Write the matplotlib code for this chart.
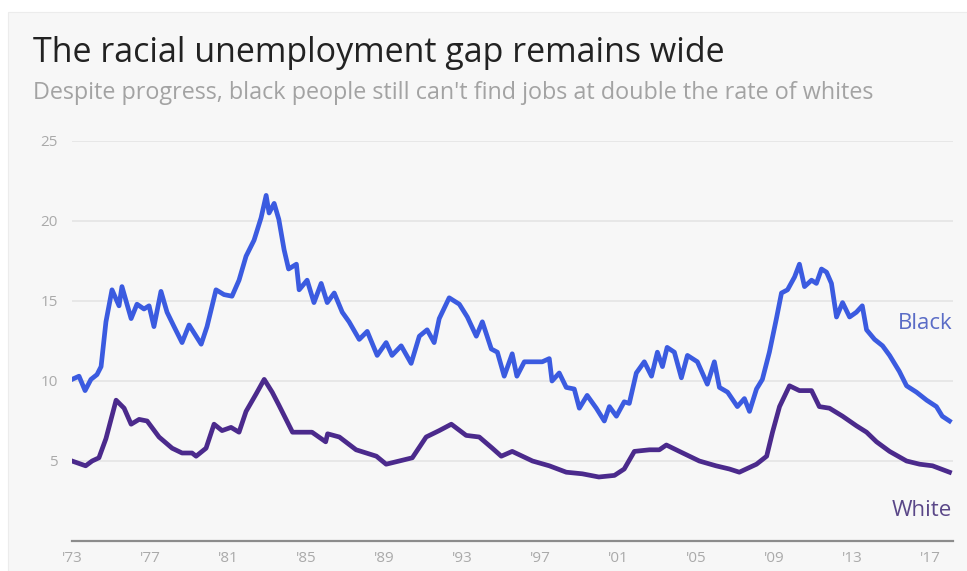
import matplotlib
matplotlib.use("Agg")
import matplotlib.pyplot as plt
from matplotlib.patches import Rectangle

# unemployment rate (%)
black_years = [1973.0, 1973.36, 1973.67, 1973.97, 1974.28, 1974.49, 1974.74, 1975.05, 1975.41,
               1975.56, 1976.03, 1976.33, 1976.69, 1976.95, 1977.2, 1977.56, 1977.87, 1978.23,
               1978.64, 1979.0, 1979.36, 1979.62, 1979.92, 1980.38, 1980.79, 1981.2, 1981.56,
               1981.92, 1982.33, 1982.69, 1982.95, 1983.1, 1983.36, 1983.6, 1983.87, 1984.1,
               1984.5, 1984.64, 1985.05, 1985.4, 1985.77, 1986.08, 1986.44, 1986.85, 1987.2,
               1987.72, 1988.13, 1988.64, 1989.1, 1989.4, 1989.87, 1990.38, 1990.8, 1991.2,
               1991.56, 1991.82, 1992.33, 1992.85, 1993.26, 1993.72, 1994.03, 1994.49, 1994.8,
               1995.15, 1995.41, 1995.56, 1995.8, 1996.18, 1996.6, 1997.1, 1997.46, 1997.6,
               1997.97, 1998.33, 1998.74, 1999.0, 1999.4, 1999.87, 2000.28, 2000.54, 2000.9,
               2001.3, 2001.56, 2001.92, 2002.33, 2002.7, 2003.0, 2003.26, 2003.5, 2003.87,
               2004.23, 2004.54, 2005.05, 2005.56, 2005.92, 2006.18, 2006.6, 2007.1, 2007.46,
               2007.72, 2008.08, 2008.38, 2008.74, 2009.1, 2009.36, 2009.67, 2010.03, 2010.28,
               2010.54, 2010.9, 2011.15, 2011.41, 2011.67, 2011.92, 2012.18, 2012.49, 2012.85,
               2013.2, 2013.5, 2013.72, 2014.13, 2014.54, 2014.9, 2015.4, 2015.77, 2016.28,
               2016.8, 2017.3, 2017.6, 2017.97]
black_rate = [10.1, 10.3, 9.4, 10.1, 10.4, 10.9, 13.7, 15.7, 14.7,
              15.9, 13.9, 14.8, 14.5, 14.7, 13.4, 15.6, 14.3, 13.4,
              12.4, 13.5, 12.8, 12.3, 13.4, 15.7, 15.4, 15.3, 16.3,
              17.8, 18.8, 20.2, 21.6, 20.5, 21.1, 20.1, 18.2, 17.0,
              17.3, 15.7, 16.3, 14.9, 16.1, 14.9, 15.5, 14.3, 13.7,
              12.6, 13.1, 11.6, 12.4, 11.6, 12.2, 11.1, 12.8, 13.2,
              12.4, 13.9, 15.2, 14.8, 14.0, 12.8, 13.7, 12.0, 11.8,
              10.3, 11.2, 11.7, 10.3, 11.2, 11.2, 11.2, 11.4, 10.0,
              10.5, 9.6, 9.5, 8.3, 9.1, 8.3, 7.5, 8.4, 7.8,
              8.7, 8.6, 10.5, 11.2, 10.3, 11.8, 10.9, 12.1, 11.8,
              10.2, 11.6, 11.2, 9.8, 11.2, 9.6, 9.3, 8.4, 8.9,
              8.1, 9.5, 10.1, 11.8, 13.9, 15.5, 15.7, 16.5, 17.3,
              15.9, 16.3, 16.1, 17.0, 16.8, 16.1, 14.0, 14.9, 14.0,
              14.3, 14.7, 13.2, 12.6, 12.2, 11.6, 10.6, 9.7, 9.3,
              8.8, 8.4, 7.8, 7.5]

white_years = [1973.0, 1973.7, 1974.03, 1974.38, 1974.74, 1975.26, 1975.67, 1976.03, 1976.44,
               1976.85, 1977.46, 1978.13, 1978.64, 1979.15, 1979.36, 1979.87, 1980.28, 1980.69,
               1981.15, 1981.56, 1981.92, 1982.44, 1982.85, 1983.26, 1983.6, 1984.3, 1985.3,
               1986.0, 1986.1, 1986.7, 1987.56, 1988.6, 1989.1, 1989.77, 1990.44, 1991.15,
               1991.82, 1992.44, 1993.2, 1993.87, 1994.54, 1995.0, 1995.56, 1996.08, 1996.6,
               1997.46, 1998.33, 1999.15, 2000.0, 2000.8, 2001.3, 2001.82, 2002.6, 2003.1,
               2003.46, 2004.13, 2005.15, 2006.0, 2006.69, 2007.2, 2008.08, 2008.6, 2008.9,
               2009.26, 2009.77, 2010.28, 2010.9, 2011.3, 2011.82, 2012.49, 2013.2, 2013.72,
               2014.23, 2014.9, 2015.77, 2016.44, 2017.1, 2017.97]
white_rate = [5.0, 4.7, 5.0, 5.2, 6.4, 8.8, 8.3, 7.3, 7.6,
              7.5, 6.5, 5.8, 5.5, 5.5, 5.3, 5.8, 7.3, 6.9,
              7.1, 6.8, 8.1, 9.2, 10.1, 9.3, 8.5, 6.8, 6.8,
              6.2, 6.7, 6.5, 5.7, 5.3, 4.8, 5.0, 5.2, 6.5,
              6.9, 7.3, 6.6, 6.5, 5.8, 5.3, 5.6, 5.3, 5.0,
              4.7, 4.3, 4.2, 4.0, 4.1, 4.5, 5.6, 5.7, 5.7,
              6.0, 5.6, 5.0, 4.7, 4.5, 4.3, 4.8, 5.3, 6.8,
              8.4, 9.7, 9.4, 9.4, 8.4, 8.3, 7.8, 7.2, 6.8,
              6.2, 5.6, 5.0, 4.8, 4.7, 4.3]

tick_years = [1973, 1977, 1981, 1985, 1989, 1993, 1997, 2001, 2005, 2009, 2013, 2017]
tick_labels = ["'73", "'77", "'81", "'85", "'89", "'93", "'97", "'01", "'05", "'09", "'13", "'17"]
y_ticks = [5, 10, 15, 20, 25]

plt.rcParams['font.family'] = ['Open Sans', 'DejaVu Sans']

fig = plt.figure(figsize=(9.67, 5.71), dpi=100)
fig.patch.set_facecolor('white')
# light card behind the chart
fig.patches.append(Rectangle((8 / 967, 0), 1, 1 - 12 / 571, transform=fig.transFigure,
                             facecolor='#f7f7f7', edgecolor='#ececec', linewidth=0.8, zorder=-5))

ax = fig.add_axes([72 / 967, 30 / 571, 881 / 967, 400 / 571])
ax.set_facecolor('none')
ax.set_zorder(2)

ax.plot(black_years, black_rate, color='#3b5be0', linewidth=3.4, solid_joinstyle='round')
ax.plot(white_years, white_rate, color='#4b2a8c', linewidth=3.4, solid_joinstyle='round')

ax.set_xlim(1973.0, 2018.15)
ax.set_ylim(0, 25)
ax.set_yticks(y_ticks)
ax.set_xticks(tick_years)
ax.set_xticklabels(tick_labels)
ax.grid(axis='y', color='#e4e4e4', linewidth=1.2)
ax.set_axisbelow(True)
ax.tick_params(axis='both', length=0, labelcolor='#aaaaaa', labelsize=11)
ax.tick_params(axis='y', pad=10)
ax.tick_params(axis='x', pad=7)
for s in ['top', 'right', 'left']:
    ax.spines[s].set_visible(False)
ax.spines['bottom'].set_color('#8c8c8c')
ax.spines['bottom'].set_linewidth(1.6)

ax.text(2018.1, 13.6, 'Black', color='#5a6cc6', fontsize=16, ha='right', va='center')
ax.text(2018.1, 1.9, 'White', color='#5a4788', fontsize=16, ha='right', va='center')

fig.text(33 / 967, 1 - 62 / 571, 'The racial unemployment gap remains wide',
         fontsize=24.5, color='#222222', va='baseline', ha='left')
fig.text(33 / 967, 1 - 99 / 571,
         "Despite progress, black people still can't find jobs at double the rate of whites",
         fontsize=16.8, color='#a3a3a3', va='baseline', ha='left')

fig.savefig('out.png', dpi=100, facecolor=fig.get_facecolor())
